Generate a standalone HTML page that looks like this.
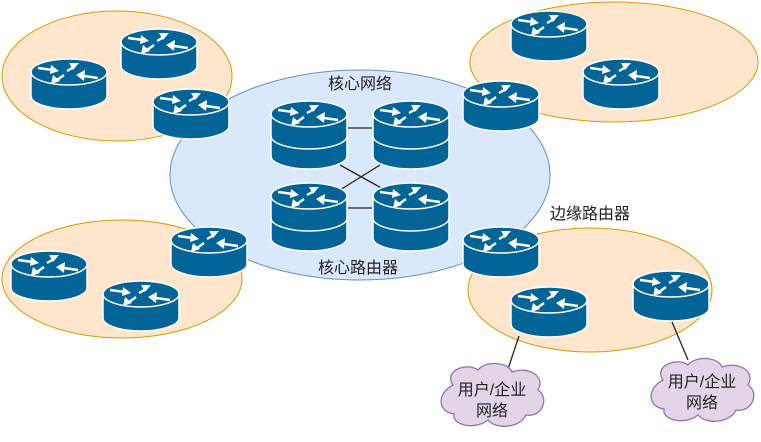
<!DOCTYPE html>
<html><head><meta charset="utf-8"><style>
html,body{margin:0;padding:0;background:#fff;width:761px;height:442px;overflow:hidden}
svg{display:block}
text{font-family:"Liberation Sans","Noto Sans CJK SC",sans-serif;font-size:16px;fill:#222}
</style></head><body>
<svg width="761" height="442" viewBox="0 0 761 442" xmlns="http://www.w3.org/2000/svg">
<defs>
<g id="top">
<ellipse cx="39" cy="14" rx="38" ry="13" fill="#036597" stroke="#fff" stroke-width="1.5"/>
<g fill="#fff" stroke="#fff" stroke-width="2.4">
<line x1="8" y1="10" x2="23" y2="12"/><polygon points="29,13 21,7 20,16" stroke="none"/>
<line x1="54" y1="18" x2="68" y2="20"/><polygon points="46,17 55,12 54,23" stroke="none"/>
<line x1="44" y1="9" x2="37" y2="13"/><polygon points="49,5 39,5 43,12" stroke="none"/>
<line x1="34" y1="17" x2="27" y2="22"/><polygon points="21,26 23,17 30,23" stroke="none"/>
</g>
</g>
<g id="r">
<path d="M1,14 V38 A38,13 0 0 0 77,38 V14 Z" fill="#036597" stroke="#fff" stroke-width="1.5"/>
<use href="#top"/>
</g>
<g id="r2">
<path d="M1,14 V56 A38,13 0 0 0 77,56 V14 Z" fill="#036597" stroke="#fff" stroke-width="1.5"/>
<path d="M1,36 A38,13 0 0 0 77,36" fill="none" stroke="#fff" stroke-width="1.5"/>
<use href="#top"/>
</g>
<path id="cloud" d="M15,25 C5,10 30,2 40,10 C48,0 70,2 74,12 C90,6 108,16 100,30 C112,38 104,58 88,55 C82,68 58,70 50,60 C38,70 14,66 16,54 C0,52 -2,34 15,25 Z" fill="#e1d5e7" stroke="#9673a6" stroke-width="1.3"/>
</defs>
<ellipse cx="117" cy="76" rx="115" ry="65" fill="#ffe6cc" stroke="#d79b00"/>
<ellipse cx="614" cy="62" rx="144" ry="60" fill="#ffe6cc" stroke="#d79b00"/>
<ellipse cx="122" cy="279" rx="120" ry="59" fill="#ffe6cc" stroke="#d79b00"/>
<ellipse cx="590" cy="290" rx="122" ry="62" fill="#ffe6cc" stroke="#d79b00"/>
<ellipse cx="360" cy="175" rx="190" ry="105" fill="#dae8fc" stroke="#6c8ebf"/>
<g stroke="#222" stroke-width="1.3">
<line x1="348" y1="128" x2="372" y2="128"/>
<line x1="348" y1="208" x2="372" y2="208"/>
<line x1="340" y1="165" x2="385" y2="190"/>
<line x1="380" y1="165" x2="340" y2="190"/>
<line x1="519" y1="336" x2="505" y2="378"/>
<line x1="672" y1="322" x2="688" y2="360"/>
</g>
<use href="#r2" x="270" y="100"/><use href="#r2" x="372" y="100"/>
<use href="#r2" x="270" y="182"/><use href="#r2" x="372" y="182"/>
<use href="#r" x="30" y="58"/><use href="#r" x="120" y="28"/><use href="#r" x="152" y="88"/>
<use href="#r" x="510" y="10"/><use href="#r" x="582" y="58"/><use href="#r" x="462" y="80"/>
<use href="#r" x="10" y="250"/><use href="#r" x="102" y="280"/><use href="#r" x="170" y="226"/>
<use href="#r" x="462" y="226"/><use href="#r" x="510" y="286"/><use href="#r" x="632" y="270"/>
<use href="#cloud" x="438" y="360"/><use href="#cloud" x="648" y="355"/>
<text x="360" y="89" text-anchor="middle">核心网络</text>
<text x="358" y="273" text-anchor="middle">核心路由器</text>
<text x="590" y="219" text-anchor="middle">边缘路由器</text>
<text x="492" y="395" text-anchor="middle">用户/企业</text>
<text x="492" y="416" text-anchor="middle">网络</text>
<text x="702" y="387" text-anchor="middle">用户/企业</text>
<text x="702" y="408" text-anchor="middle">网络</text>
</svg>
</body></html>
